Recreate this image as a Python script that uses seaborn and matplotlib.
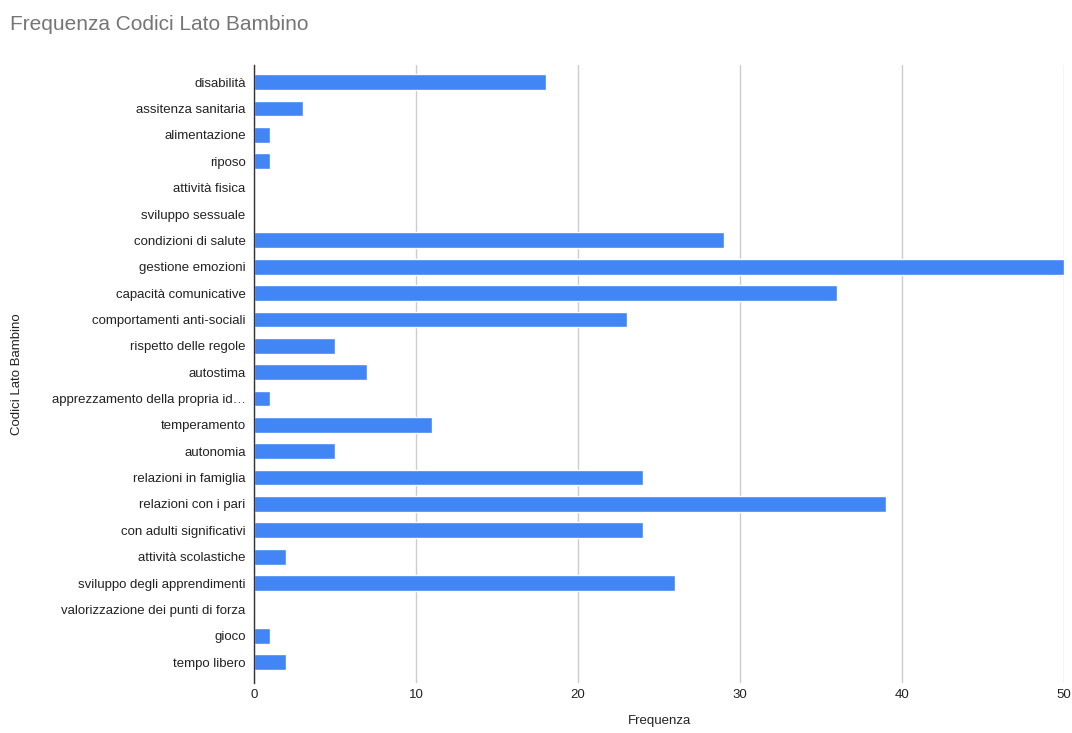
import matplotlib
matplotlib.use("Agg")
import matplotlib.pyplot as plt
import seaborn as sns
import pandas as pd

categorie = [
    "disabilità", "assitenza sanitaria", "alimentazione", "riposo", "attività fisica",
    "sviluppo sessuale", "condizioni di salute", "gestione emozioni", "capacità comunicative",
    "comportamenti anti-sociali", "rispetto delle regole", "autostima",
    "apprezzamento della propria id…", "temperamento", "autonomia", "relazioni in famiglia",
    "relazioni con i pari", "con adulti significativi", "attività scolastiche",
    "sviluppo degli apprendimenti", "valorizzazione dei punti di forza", "gioco", "tempo libero",
]
frequenze = [18, 3, 1, 1, 0, 0, 29, 50, 36, 23, 5, 7, 1, 11, 5, 24, 39, 24, 2, 26, 0, 1, 2]
x_ticks = [0, 10, 20, 30, 40, 50]

df = pd.DataFrame({"codice": categorie, "freq": frequenze})

sns.set_theme(style="white")
plt.rcParams["font.family"] = ["Liberation Sans", "DejaVu Sans"]

fig = plt.figure(figsize=(10.72, 7.33), dpi=100)
# area del grafico: da x=254 a x=1064, da y=65 a y=683 (pixel)
ax = fig.add_axes([0.237, 0.068, 0.7555, 0.843])

sns.barplot(data=df, x="freq", y="codice", color="#4285F4", saturation=1,
            width=0.6, ax=ax, orient="h")

ax.set_xlim(0, 50)
ax.set_xticks(x_ticks)
ax.set_ylim(len(categorie) - 1 + 0.8, -0.645)
ax.xaxis.grid(True, color="#cccccc", linewidth=1)
ax.set_axisbelow(True)
for s in ["top", "right", "bottom"]:
    ax.spines[s].set_visible(False)
ax.spines["left"].set_color("#333333")
ax.spines["left"].set_linewidth(1)
ax.tick_params(axis="both", length=0, labelsize=9.5, colors="#222222", pad=6)
ax.tick_params(axis="x", pad=4)

ax.set_xlabel("Frequenza", fontsize=9.5, color="#222222")
ax.xaxis.set_label_coords(0.5, -0.052)
ax.set_ylabel("Codici Lato Bambino", fontsize=9.5, color="#222222")
ax.yaxis.set_label_coords(-0.285, 0.5)

fig.text(0.009, 0.966, "Frequenza Codici Lato Bambino", fontsize=15, color="#757575",
         va="center", ha="left")

fig.savefig("out.png", dpi=100)
